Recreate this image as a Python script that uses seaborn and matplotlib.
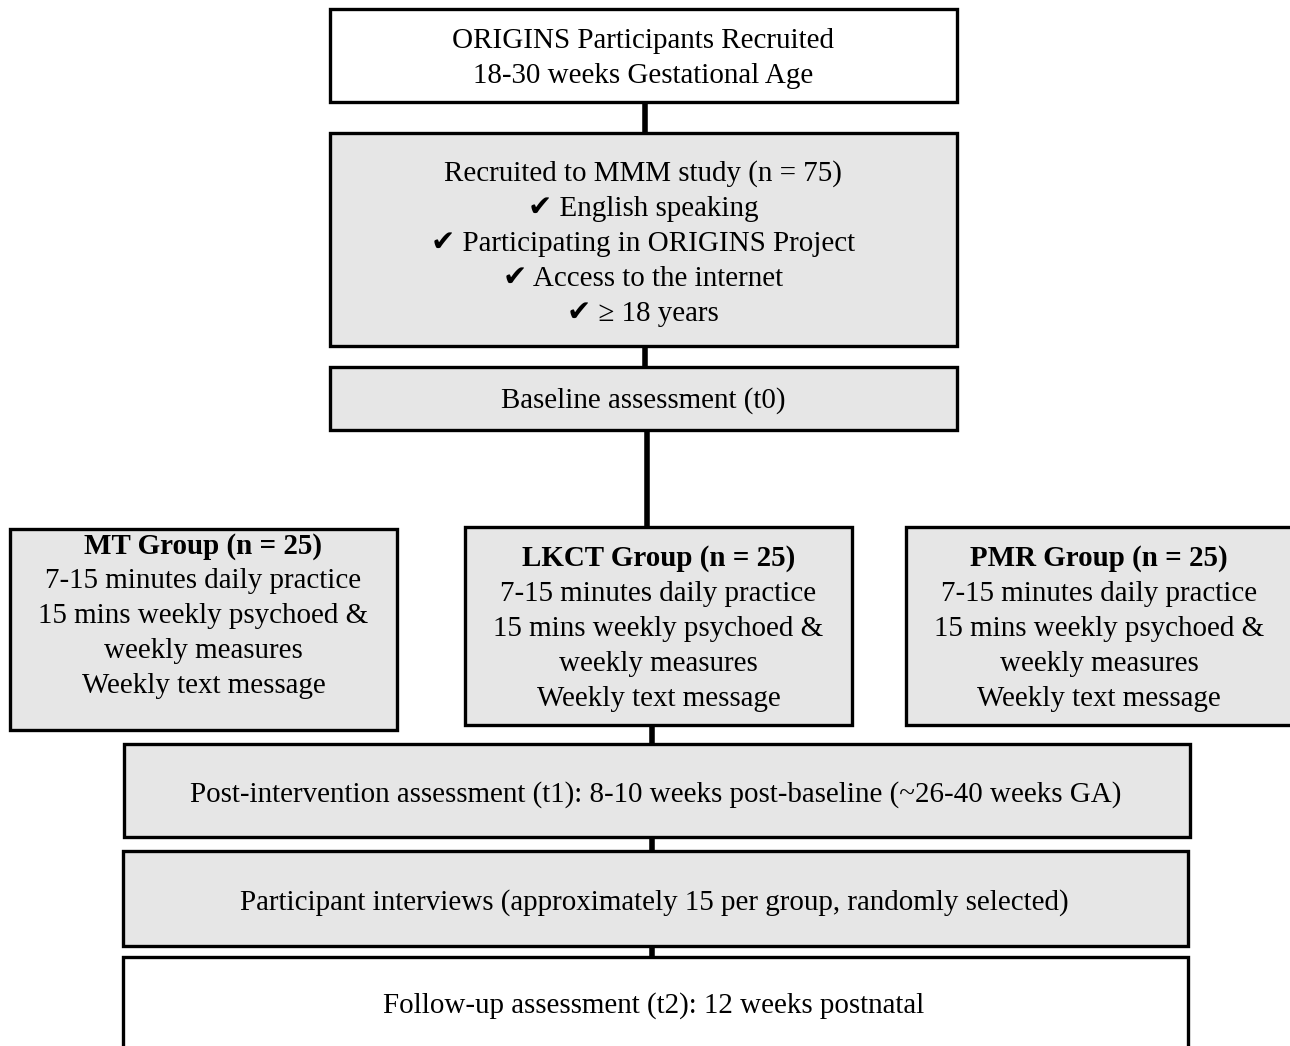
import matplotlib
matplotlib.use('Agg')
import matplotlib.pyplot as plt
import seaborn as sns
from matplotlib.patches import Rectangle

sns.set_style('white')
plt.rcParams['font.family'] = ['Liberation Serif', 'DejaVu Sans']
plt.rcParams['text.color'] = 'black'

# box text
top_lines = ['ORIGINS Participants Recruited', '18-30 weeks Gestational Age']
recruit_lines = ['Recruited to MMM study (n = 75)',
                 '\u2714 English speaking',
                 '\u2714 Participating in ORIGINS Project',
                 '\u2714 Access to the internet',
                 '\u2714 \u2265 18 years']
baseline_lines = ['Baseline assessment (t0)']
group_titles = ['MT Group (n = 25)', 'LKCT Group (n = 25)', 'PMR Group (n = 25)']
group_lines = ['7-15 minutes daily practice',
               '15 mins weekly psychoed &',
               'weekly measures',
               'Weekly text message']
post_lines = ['Post-intervention assessment (t1): 8-10 weeks post-baseline (~26-40 weeks GA)']
interview_lines = ['Participant interviews (approximately 15 per group, randomly selected)']
follow_lines = ['Follow-up assessment (t2): 12 weeks postnatal']

GRAY = '#e6e6e6'
FS = 20.9
LH = 35

fig, ax = plt.subplots(figsize=(12.9, 10.46), dpi=100)
fig.subplots_adjust(0, 0, 1, 1)
ax.set_xlim(0, 1290)
ax.set_ylim(1046, 0)
ax.axis('off')


def box(x0, y0, x1, y1, fill):
    ax.add_patch(Rectangle((x0, y0), x1 - x0, y1 - y0, facecolor=fill,
                           edgecolor='black', linewidth=2.4, zorder=2))


def lines(cx, y_first, texts, bold_first=False):
    for i, t in enumerate(texts):
        ax.text(cx, y_first + 3 + i * LH, t, ha='center', va='center', fontsize=FS,
                color='black',
                fontweight='bold' if (bold_first and i == 0) else 'normal', zorder=3)


def link(x, y0, y1):
    ax.plot([x, x], [y0, y1], color='black', linewidth=4, zorder=1,
            solid_capstyle='butt')


link(645, 100, 135)
link(645, 344, 369)
link(647, 428, 529)
link(652, 723, 746)
link(652, 835, 853)
link(652, 944, 959)

box(330, 9, 957, 102, 'white')
lines(643, 38, top_lines)

box(330, 133, 957, 346, GRAY)
lines(643, 171, recruit_lines)

box(330, 367, 957, 430, GRAY)
lines(643, 398, baseline_lines)

group_x = [(10, 397), (465, 852), (906, 1300)]
group_y = [(529, 730), (527, 725), (527, 725)]
group_first = [543, 556, 556]
for (x0, x1), (y0, y1), yf, title in zip(group_x, group_y, group_first, group_titles):
    box(x0, y0, x1, y1, GRAY)
    cx = (x0 + min(x1, 1292)) / 2
    lines(cx, yf, [title] + group_lines, bold_first=True)

box(124, 744, 1190, 837, GRAY)
lines(656, 792, post_lines)

box(123, 851, 1188, 946, GRAY)
lines(654, 900, interview_lines)

box(123, 957, 1188, 1060, 'white')
lines(654, 1003, follow_lines)

plt.savefig('out.png', dpi=100)
plt.close()
